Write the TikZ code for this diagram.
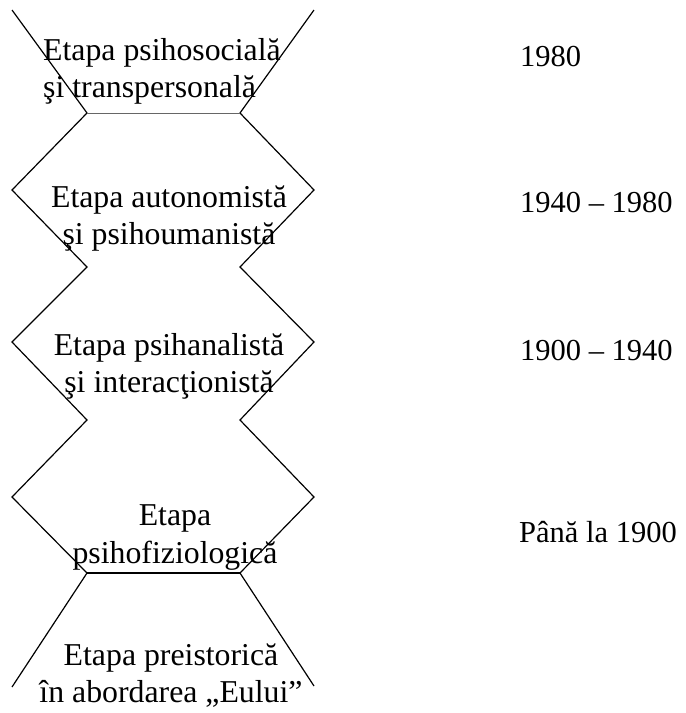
\documentclass[tikz,border=0pt]{standalone}
\usepackage{fontspec}
\setmainfont{Liberation Serif}
\begin{document}
\begin{tikzpicture}[x=1pt,y=-1pt,
  lbl/.style={inner sep=0pt,font=\fontsize{31.8}{36.5}\selectfont},
  date/.style={inner sep=0pt,font=\fontsize{30.5}{36}\selectfont},
  zig/.style={line width=1.2pt,line join=miter},
  rim/.style={line width=0.9pt,draw=black!60}]
\useasboundingbox (0,0) rectangle (686,713);
% vertices of the left and right zigzag
\foreach \n/\x/\y in {0/12/10,1/87/113,2/12/190,3/87/267,4/12/342,5/87/420,6/12/497,7/87/573,8/12/687}
  \coordinate (L\n) at (\x,\y);
\foreach \n/\x/\y in {0/314/10,1/240/113,2/314/190,3/240/267,4/314/342,5/240/420,6/314/497,7/240/573,8/314/686}
  \coordinate (R\n) at (\x,\y);
\draw[zig] (L0) -- (L1) -- (L2) -- (L3) -- (L4) -- (L5) -- (L6) -- (L7) -- (L8);
\draw[zig] (R0) -- (R1) -- (R2) -- (R3) -- (R4) -- (R5) -- (R6) -- (R7) -- (R8);
\draw[rim] (L1) -- (R1);
\draw[zig] (L7) -- (R7);
% stage labels (base anchor = baseline of the last line)
\node[lbl,align=left,anchor=base west] (e1) at (43,97) {Etapa psihosocială\\şi transpersonală};
\node[lbl,align=center,anchor=base] (e2) at (169,244) {Etapa autonomistă\\şi psihoumanistă};
\node[lbl,align=center,anchor=base] (e3) at (169,392) {Etapa psihanalistă\\şi interacţionistă};
\node[lbl,align=center,anchor=base] (e4) at (175,563) {Etapa\\[1.5pt]psihofiziologică};
\node[lbl,align=center,anchor=base] (e5) at (171,702) {Etapa preistorică\\în abordarea „Eului”};
% dates
\node[date,anchor=base west] (d1) at (520,66) {1980};
\node[date,anchor=base west] (d2) at (520,212) {1940 – 1980};
\node[date,anchor=base west] (d3) at (520,360) {1900 – 1940};
\node[date,anchor=base west] (d4) at (519,542) {Până la 1900};
\end{tikzpicture}
\end{document}
